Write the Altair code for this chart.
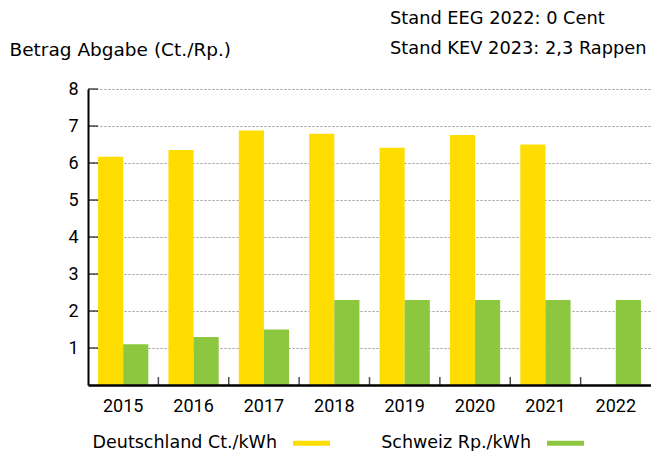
import altair as alt
import pandas as pd

years = ["2015", "2016", "2017", "2018", "2019", "2020", "2021", "2022"]
de_values = [6.17, 6.35, 6.88, 6.79, 6.41, 6.76, 6.50, None]
ch_values = [1.1, 1.3, 1.5, 2.3, 2.3, 2.3, 2.3, 2.3]
series = ["Deutschland Ct./kWh", "Schweiz Rp./kWh"]
colors = ["#FFDD00", "#8DC63F"]
y_ticks = [1, 2, 3, 4, 5, 6, 7, 8]
x_boundaries = years[1:]
y_title = "Betrag Abgabe (Ct./Rp.)"
note_lines = ["Stand EEG 2022: 0 Cent", "Stand KEV 2023: 2,3 Rappen"]

rows = []
for yr, d, c in zip(years, de_values, ch_values):
    if d is not None:
        rows.append({"year": yr, "series": series[0], "value": d})
    rows.append({"year": yr, "series": series[1], "value": c})
df = pd.DataFrame(rows)
ytick_df = pd.DataFrame({"value": y_ticks})
xtick_df = pd.DataFrame({"year": x_boundaries})

NUMFONT = "Roboto"
TXTFONT = "DejaVu Sans"
FS = 18

xscale = alt.Scale(domain=years, paddingInner=0, paddingOuter=0)
yscale = alt.Scale(domain=[0, 8], nice=False)

# legend swatch drawn to the right of its (right-aligned) label
SWATCH = "M2.6,-0.26H6.3V0.26H2.6Z"

bars = alt.Chart(df).mark_bar().encode(
    x=alt.X("year:N", scale=xscale,
            axis=alt.Axis(orient="bottom", title=None, labelAngle=0, ticks=False,
                          domainColor="black", domainWidth=2.5, labelPadding=12,
                          labelFontSize=FS, labelColor="black", labelFont=NUMFONT,
                          zindex=1)),
    xOffset=alt.XOffset("series:N", sort=series,
                        scale=alt.Scale(paddingOuter=0.4, paddingInner=0)),
    y=alt.Y("value:Q", scale=yscale,
            axis=alt.Axis(orient="left", values=y_ticks, title=y_title, titleAngle=0,
                          titleAlign="left", titleBaseline="alphabetic", titleX=-79,
                          titleY=-34, titleFontSize=18.5, titleFontWeight="normal",
                          titleFont=TXTFONT, titleColor="black",
                          ticks=False, grid=True, gridDash=[2, 2], gridColor="#999999",
                          gridWidth=1, domainColor="black", domainWidth=2,
                          labelPadding=10, labelFontSize=FS, labelColor="black",
                          labelFont=NUMFONT)),
    color=alt.Color("series:N",
                    scale=alt.Scale(domain=series, range=colors),
                    legend=alt.Legend(title=None, orient="none", legendX=169, legendY=344,
                                      direction="horizontal",
                                      symbolType=SWATCH, symbolSize=400,
                                      symbolStrokeWidth=0, symbolOpacity=1,
                                      labelAlign="right", labelOffset=0, labelLimit=400,
                                      labelFontSize=17.5, labelFont=TXTFONT,
                                      labelColor="black", columnPadding=51)),
)

ytick_layer = alt.Chart(ytick_df).mark_tick(
    orient="horizontal", size=10, thickness=1.5, color="black"
).encode(
    y=alt.Y("value:Q", scale=yscale, axis=None),
    x=alt.value(5),
)

xtick_layer = alt.Chart(xtick_df).mark_tick(
    orient="vertical", size=8, thickness=1.5, color="black"
).encode(
    x=alt.X("year:N", scale=xscale, bandPosition=0, axis=None),
    y=alt.value(292),
)

chart = alt.layer(bars, ytick_layer, xtick_layer).resolve_axis(
    x="independent", y="independent"
).properties(
    width=563, height=296,
    title=alt.TitleParams(note_lines, anchor="start", align="left", dx=302, dy=22,
                          fontSize=17.8, fontWeight="normal", font=TXTFONT, color="black",
                          lineHeight=30, frame="group"),
    autosize=alt.AutoSizeParams(type="none"),
    padding={"left": 80, "top": 81, "right": 0, "bottom": 66},
).configure_view(stroke=None)

chart.save("out.html", embed_options={"renderer": "svg", "actions": False})
